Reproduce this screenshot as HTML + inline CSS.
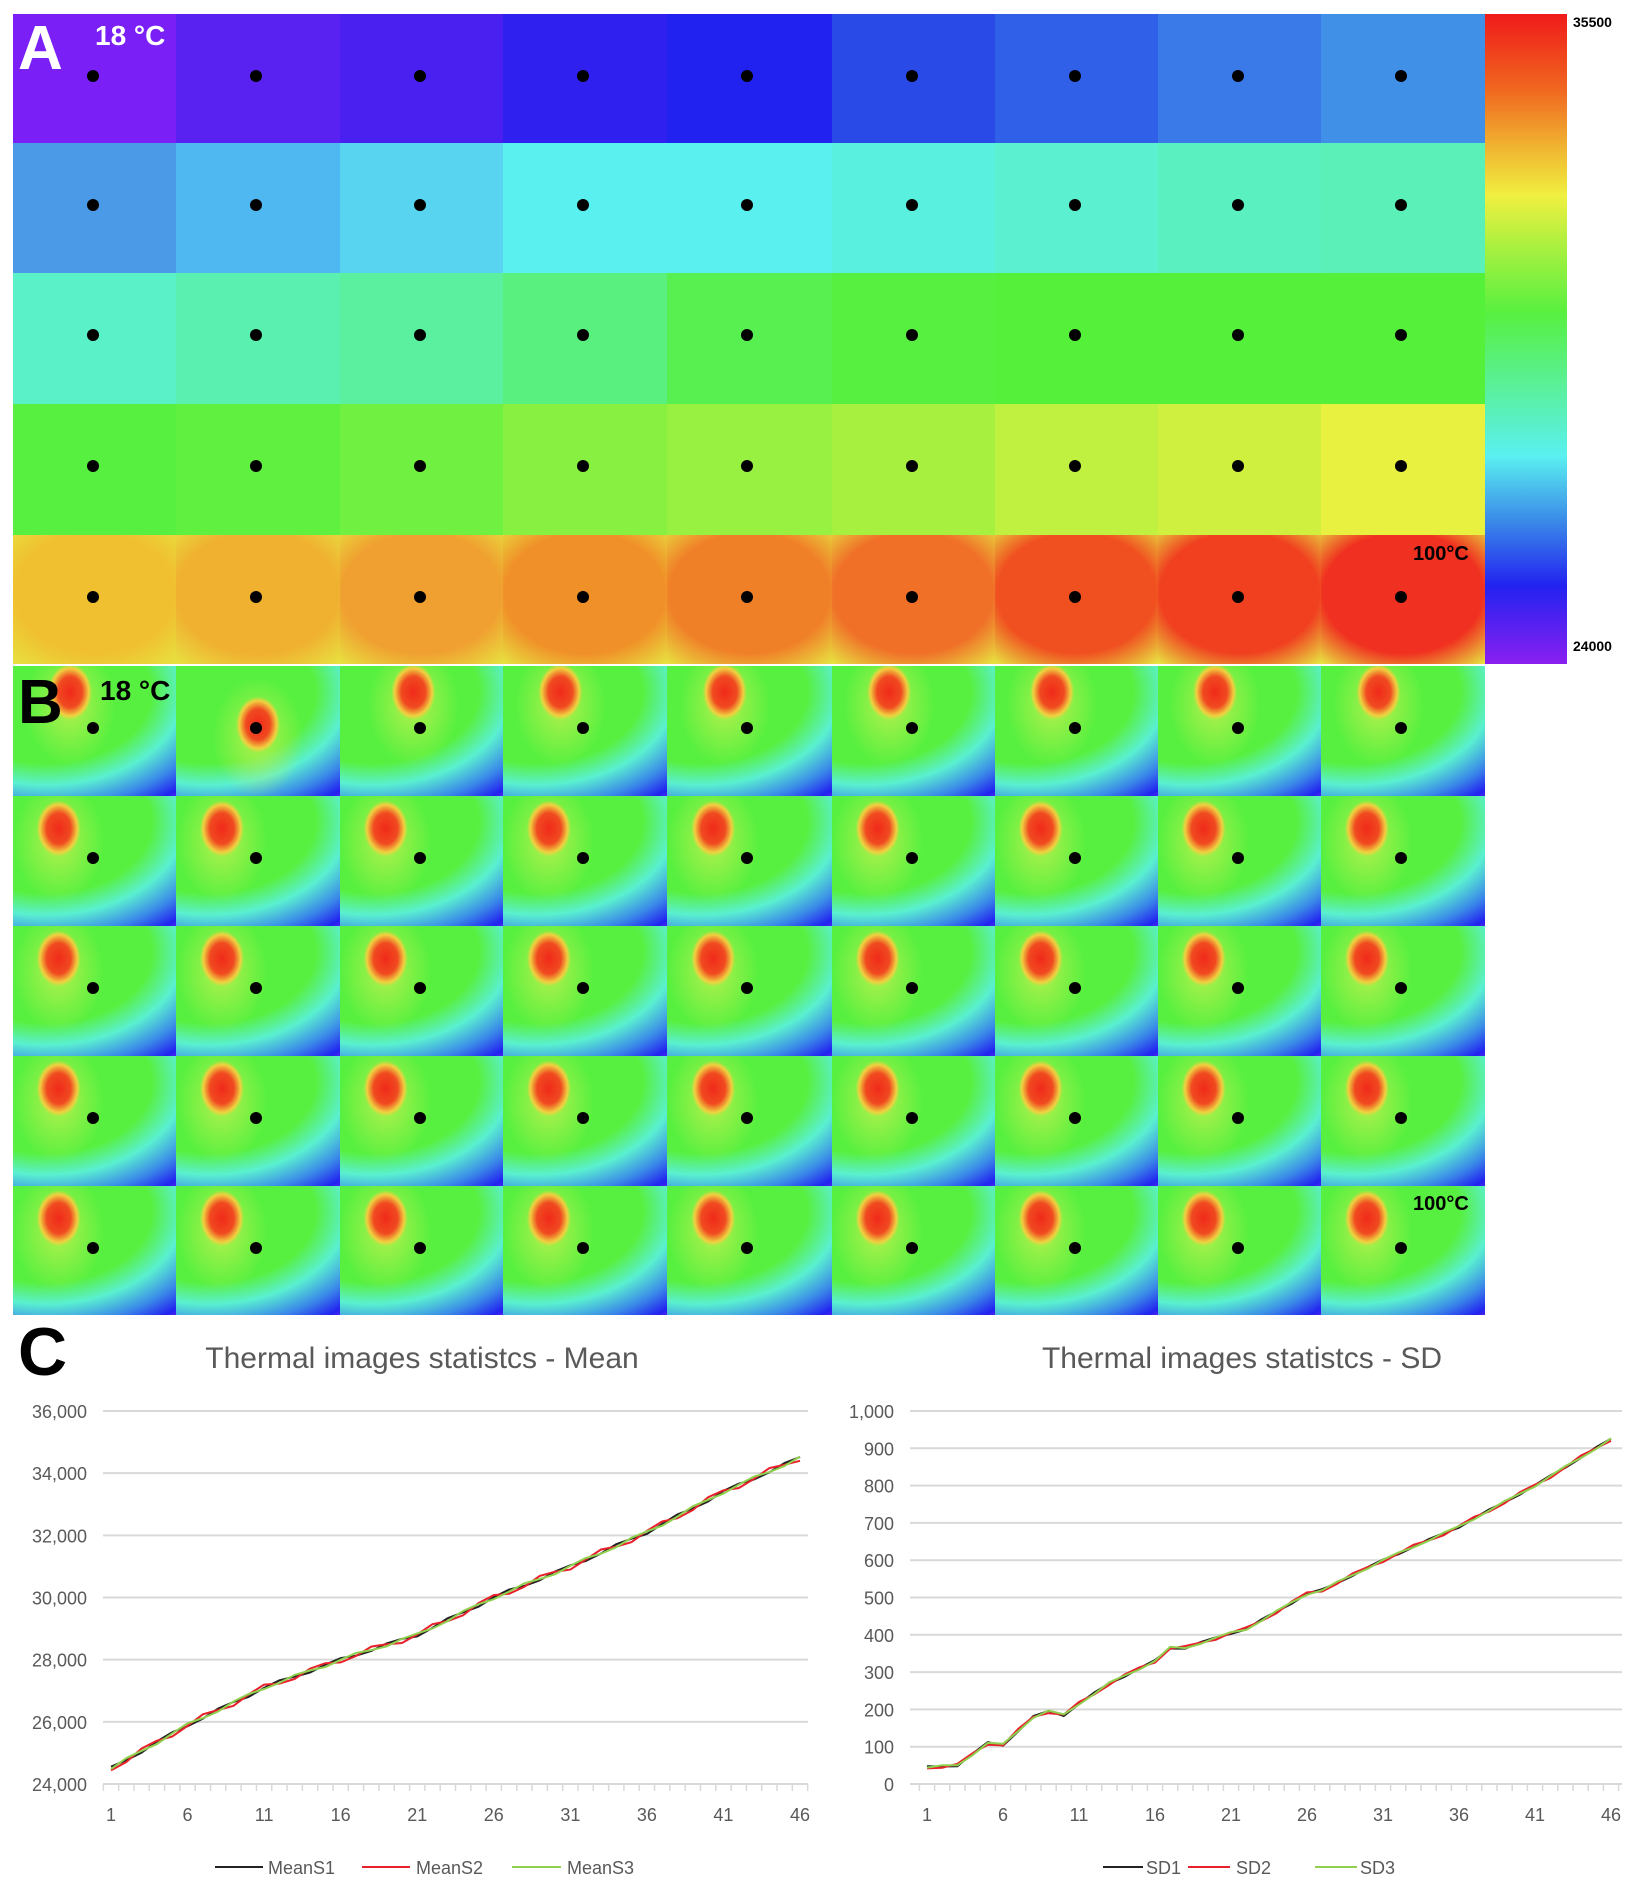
<!DOCTYPE html>
<html><head><meta charset="utf-8"><style>
html,body{margin:0;padding:0;background:#fff;}
#wrap{position:relative;width:1640px;height:1891px;overflow:hidden;font-family:"Liberation Sans",sans-serif;}
.cell{position:absolute;width:164px;height:130px;}
.dot{position:absolute;width:12px;height:12px;border-radius:50%;background:#000;}
.lbl{position:absolute;font-weight:bold;}
svg{position:absolute;left:0;top:0;}
</style></head><body><div id="wrap">
<div style="position:absolute;left:1485px;top:14px;width:82px;height:650px;background:linear-gradient(to bottom,#f01a1a 0%,#f06a20 12%,#f0b030 20%,#f0f040 28%,#a8f040 36%,#58f040 46%,#5af0b0 60%,#5af0f0 68%,#3a8ae8 78%,#2222f0 88%,#8a20f0 100%);"></div>
<div class="lbl" style="left:1573px;top:14px;font-size:14px;">35500</div>
<div class="lbl" style="left:1573px;top:638px;font-size:14px;">24000</div>
<svg id="ch" width="1640" height="1891"></svg>
</div>
<script>
var W=document.getElementById('wrap');
var colsX=[13,176,340,503,667,832,995,1158,1321];
var rowsA=[14,143,273,404,535];
var A=[
["#7a1ff5","#5a22f0","#4a20f0","#3020f0","#2222f0","#2a4ae8","#3060e8","#3a7ae8","#4090e8"],
["#4a9ae8","#50b8f0","#58d4f0","#5af0f0","#5af0f0","#5af0e0","#5af0d0","#5af0c0","#5af0b8"],
["#5af0c8","#5af0b0","#5af0a0","#5af080","#58f050","#58f040","#55f03a","#55f03a","#55f03a"],
["#58f040","#60f040","#70f040","#88f040","#98f040","#a8f040","#c0f040","#d0f040","#e8f040"],
["#f0c030","#f0b030","#f0a030","#f09028","#f08028","#f07028","#f05020","#f04020","#f03020"]];
function add(html){W.insertAdjacentHTML('beforeend',html);}
for(var r=0;r<5;r++)for(var c=0;c<9;c++){
 var col=A[r][c];
 var bg=r==4?"radial-gradient(ellipse 75% 72% at 50% 45%,"+col+" 65%,#e8e040 100%)":col;
 add('<div class="cell" style="left:'+colsX[c]+'px;top:'+rowsA[r]+'px;width:'+(c==8?164:colsX[c+1]-colsX[c])+'px;height:'+(r==4?129:rowsA[r+1]-rowsA[r])+'px;background:'+bg+';"></div>');
 add('<div class="dot" style="left:'+(colsX[c]+74)+'px;top:'+(rowsA[r]+56)+'px"></div>');
}
var rowsB=[666,796,926,1056,1186];
for(var r=0;r<5;r++)for(var c=0;c<9;c++){
 var bx=r==0?(c==1?50:c==2?45:35):28, by=r==0?(c==1?45:20):25;
 var bg="radial-gradient(ellipse 22px 28px at "+bx+"% "+by+"%,#f02a1a 0%,#f04a20 55%,#f0d040 85%,rgba(240,240,64,0) 100%),"+
 "radial-gradient(ellipse 45px 60px at "+bx+"% "+(by+10)+"%,rgba(220,240,80,0.7) 0%,rgba(220,240,80,0) 100%),"+
 "radial-gradient(ellipse 130% 110% at 20% 20%,#58f040 0%,#58f040 50%,#5af0d0 65%,#3a8ae8 80%,#2222f0 92%,#8a20f0 100%)";
 add('<div class="cell" style="left:'+colsX[c]+'px;top:'+rowsB[r]+'px;width:'+(c==8?164:colsX[c+1]-colsX[c])+'px;height:'+(r==4?129:rowsB[r+1]-rowsB[r])+'px;background:'+bg+';"></div>');
 add('<div class="dot" style="left:'+(colsX[c]+74)+'px;top:'+(rowsB[r]+56)+'px"></div>');
}
add('<div class="lbl" style="left:18px;top:18px;font-size:62px;color:#fff;line-height:1">A</div>');
add('<div class="lbl" style="left:95px;top:20px;font-size:28px;color:#fff;">18 °C</div>');
add('<div class="lbl" style="left:1413px;top:543px;font-size:20px;color:#000;">100°C</div>');
add('<div class="lbl" style="left:18px;top:672px;font-size:62px;color:#000;line-height:1">B</div>');
add('<div class="lbl" style="left:100px;top:675px;font-size:28px;color:#000;">18 °C</div>');
add('<div class="lbl" style="left:1413px;top:1193px;font-size:20px;color:#000;">100°C</div>');
add('<div class="lbl" style="left:18px;top:1318px;font-size:68px;color:#000;line-height:1">C</div>');
var s='';
function interp(k,pts){for(var i=0;i<pts.length-1;i++){if(k<=pts[i+1][0]){var t=(k-pts[i][0])/(pts[i+1][0]-pts[i][0]);return pts[i][1]+t*(pts[i+1][1]-pts[i][1]);}}return pts[pts.length-1][1];}
function chart(x0,x1,xs,xe,ymin,ymax,step,fmt,pts,noise,title,tx,names,leg){
 var yt=1411,yb=1784;
 s+='<text x="'+tx+'" y="1368" font-size="30" fill="#595959" text-anchor="middle">'+title+'</text>';
 for(var v=ymin;v<=ymax;v+=step){var y=yb-(v-ymin)/(ymax-ymin)*(yb-yt);
  s+='<line x1="'+x0+'" x2="'+x1+'" y1="'+y+'" y2="'+y+'" stroke="#d9d9d9" stroke-width="2"/>';
  s+='<text x="'+(x0-16)+'" y="'+(y+7)+'" font-size="18" fill="#595959" text-anchor="end">'+fmt(v)+'</text>';}
 var dx=(xe-xs)/45;
 for(var k=0;k<=46;k++){var x=xs+(k-0.5)*dx;s+='<line x1="'+x+'" x2="'+x+'" y1="'+yb+'" y2="'+(yb+7)+'" stroke="#d9d9d9" stroke-width="1.5"/>';}
 for(var k=1;k<=46;k+=5)s+='<text x="'+(xs+(k-1)*dx)+'" y="1821" font-size="18" fill="#595959" text-anchor="middle">'+k+'</text>';
 var cols=['#222','#e8202a','#8fd14f'];
 for(var j=0;j<3;j++){var p=[];for(var k=1;k<=46;k++){var v=interp(k,pts)+noise*Math.sin(k*1.7+j*2.1)*(j==1?1.3:0.7);p.push((xs+(k-1)*dx).toFixed(1)+','+(yb-(v-ymin)/(ymax-ymin)*(yb-yt)).toFixed(1));}
  s+='<polyline points="'+p.join(' ')+'" fill="none" stroke="'+cols[j]+'" stroke-width="2"/>';}
 for(var j=0;j<3;j++){s+='<line x1="'+leg[j][0]+'" x2="'+leg[j][1]+'" y1="1867" y2="1867" stroke="'+cols[j]+'" stroke-width="2"/><text x="'+leg[j][2]+'" y="1874" font-size="18" fill="#595959">'+names[j]+'</text>';}
}
chart(103,808,111,800,24000,36000,2000,function(v){return (v/1000)+',000';},
 [[1,24500],[6,25900],[11,27100],[16,28000],[21,28800],[26,30000],[31,31000],[36,32100],[41,33400],[46,34500]],80,
 'Thermal images statistcs - Mean',422,['MeanS1','MeanS2','MeanS3'],[[215,263,268],[362,410,416],[512,561,567]]);
chart(910,1622,927,1611,0,1000,100,function(v){return v==1000?'1,000':v;},
 [[1,45],[3,50],[5,110],[6,105],[8,180],[9,195],[10,185],[11,215],[13,270],[16,330],[17,365],[18,365],[21,405],[22,415],[26,510],[27,520],[31,600],[36,690],[41,800],[46,925]],4,
 'Thermal images statistcs - SD',1242,['SD1','SD2','SD3'],[[1103,1143,1146],[1188,1230,1236],[1315,1357,1360]]);
document.getElementById('ch').innerHTML=s;
</script>
</body></html>
